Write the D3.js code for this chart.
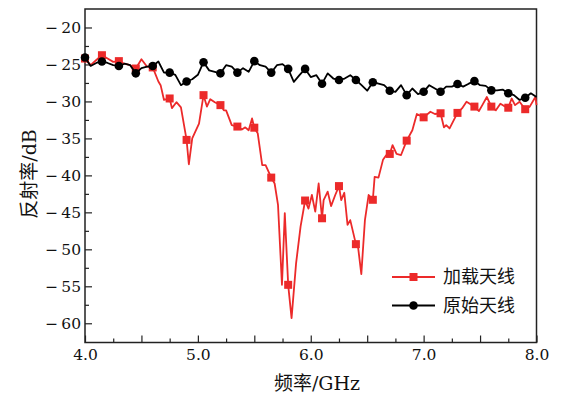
<!DOCTYPE html>
<html><head><meta charset="utf-8">
<script src="https://cdn.jsdelivr.net/npm/d3@7"></script>
<style>
html,body{margin:0;padding:0;background:#fff;}
svg{display:block;}
text{font-family:"DejaVu Serif","Noto Sans CJK SC",serif;fill:#111;}
</style></head>
<body><svg id="chart" width="561" height="394"></svg>
<script>
// ---------- data ----------
const seriesNames = ["加载天线", "原始天线"];
const seriesColors = ["#ec2a2a", "#000000"];

// 原始天线 (black): sampled every 0.05 GHz from 4.0 to 8.0
const origFreq = d3.range(0, 81).map(i => +(4 + i * 0.05).toFixed(2));
const origDb = [
  -24.05,-25.2,-24.8,-24.6,-24.8,-25.1,-25.2,-24.9,-25.1,-26.2,
  -25.5,-25.3,-25.2,-24.6,-26.1,-26.1,-26.4,-27.8,-27.3,-27.0,
  -26.4,-24.7,-25.8,-26.0,-26.2,-25.1,-25.3,-26.1,-25.5,-26.0,
  -24.55,-25.1,-25.3,-26.1,-25.1,-24.95,-25.6,-27.35,-26.45,-25.6,
  -26.7,-26.45,-27.6,-26.2,-26.9,-27.1,-26.9,-26.45,-27.1,-27.8,
  -28.55,-27.4,-27.6,-27.8,-28.55,-28.7,-27.8,-29.15,-28.25,-29.0,
  -28.7,-27.8,-28.25,-28.7,-28.0,-28.0,-27.65,-28.0,-27.6,-27.25,
  -27.8,-27.9,-28.5,-28.5,-28.4,-28.9,-29.15,-29.8,-29.5,-28.9,
  -29.4
];

// 加载天线 (red)
const loadFreq = [
  4.00,4.05,4.10,4.15,4.20,4.25,4.30,4.35,4.40,4.45,4.50,4.55,4.60,4.65,4.67,4.70,
  4.75,4.77,4.81,4.85,4.90,4.92,4.95,5.01,5.05,5.08,5.11,5.15,5.20,5.23,5.25,5.30,
  5.35,5.39,5.42,5.45,5.48,5.50,5.53,5.57,5.60,5.65,5.68,5.71,5.745,5.77,5.80,5.83,
  5.87,5.91,5.95,5.98,6.01,6.04,6.07,6.10,6.114,6.15,6.18,6.217,6.25,6.27,6.297,6.326,
  6.35,6.40,6.418,6.448,6.48,6.513,6.55,6.566,6.60,6.64,6.67,6.70,6.725,6.76,6.80,6.85,
  6.90,6.94,7.00,7.06,7.10,7.15,7.18,7.20,7.23,7.30,7.34,7.38,7.45,7.49,7.52,7.56,
  7.60,7.64,7.68,7.71,7.75,7.78,7.81,7.85,7.90,7.94,7.99,8.00
];
const loadDb = [
  -24.2,-25.1,-24.4,-23.75,-24.2,-24.65,-24.55,-24.9,-25.1,-25.55,-24.3,-25.3,-25.4,-27.3,-27.8,-29.8,
  -29.6,-30.9,-30.1,-30.8,-35.2,-38.5,-35.0,-33.0,-29.15,-30.7,-29.7,-30.1,-30.5,-31.2,-31.2,-33.2,
  -33.4,-33.8,-33.5,-33.9,-32.3,-33.55,-34.3,-38.6,-38.6,-40.3,-41.1,-44.0,-54.8,-45.1,-54.8,-59.3,
  -51.9,-46.9,-43.4,-44.5,-42.65,-44.9,-41.1,-45.8,-43.35,-42.2,-44.15,-42.65,-41.45,-43.35,-42.35,-46.7,
  -46.05,-49.3,-49.55,-53.35,-46.05,-42.65,-43.3,-40.2,-40.3,-37.9,-37.25,-37.1,-35.9,-37.1,-37.25,-35.3,
  -33.9,-31.7,-32.15,-31.4,-31.7,-31.6,-33.5,-33.2,-33.65,-31.55,-30.95,-30.05,-30.7,-31.3,-30.5,-29.4,
  -30.7,-31.2,-30.3,-30.6,-30.85,-29.6,-30.5,-30.05,-31.05,-30.7,-29.4,-30.5
];

const xTickLabels = [4.0, 5.0, 6.0, 7.0, 8.0];
const xTickAll = d3.range(0, 17).map(i => 4 + i * 0.25);
const yTickLabels = [-20,-25,-30,-35,-40,-45,-50,-55,-60];
const yTickMinor = [-22.5,-27.5,-32.5,-37.5,-42.5,-47.5,-52.5,-57.5,-62.5];
const xTitle = "频率/GHz";
const yTitle = "反射率/dB";

// ---------- layout ----------
const svg = d3.select("#chart");
const L = 85, R = 536.5, T = 9, B = 342.5;
const x = d3.scaleLinear().domain([4, 8]).range([L, R]);
const y = d3.scaleLinear().domain([-62.6, -17.5]).range([B, T]);

const isMarker = f => Math.abs((f - 4) / 0.15 - Math.round((f - 4) / 0.15)) < 1e-6;

// axes
const fmtMinus = d => (d < 0 ? "\u2212\u2009" : "") + Math.abs(d);
const gy = svg.append("g").attr("transform", `translate(${L},0)`)
  .call(d3.axisLeft(y).tickValues(yTickLabels).tickSize(-7).tickPadding(4).tickFormat(fmtMinus));
const gyMinor = svg.append("g").attr("transform", `translate(${L},0)`)
  .call(d3.axisLeft(y).tickValues(yTickMinor.filter(v => y(v) < B - 1)).tickSize(-4).tickFormat(""));
const gx = svg.append("g").attr("transform", `translate(0,${B})`)
  .call(d3.axisBottom(x).tickValues(xTickLabels).tickSize(-7).tickPadding(6).tickFormat(d3.format(".1f")));
const gxMid = svg.append("g").attr("transform", `translate(0,${B})`)
  .call(d3.axisBottom(x).tickValues(xTickAll.filter((v,i) => i % 2 === 0 && i % 4 !== 0)).tickSize(-7).tickFormat(""));
const gxMinor = svg.append("g").attr("transform", `translate(0,${B})`)
  .call(d3.axisBottom(x).tickValues(xTickAll.filter((v,i) => i % 2 === 1)).tickSize(-4).tickFormat(""));
[gy, gyMinor, gx, gxMid, gxMinor].forEach(g => {
  g.select(".domain").remove();
  g.selectAll(".tick line").attr("stroke", "#222").attr("stroke-width", 1.2);
  g.selectAll("text").attr("font-size", 15.5).attr("font-family", "DejaVu Serif").attr("fill", "#222");
});

// frame
svg.append("rect").attr("x", L).attr("y", T).attr("width", R - L).attr("height", B - T)
  .attr("fill", "none").attr("stroke", "#222").attr("stroke-width", 1.5);

// lines
const line = d3.line().x(d => x(d[0])).y(d => y(d[1]));
const loadData = loadFreq.map((f, i) => [f, loadDb[i]]);
const origData = origFreq.map((f, i) => [f, origDb[i]]);

const gPlot = svg.append("g");
gPlot.append("path").datum(loadData).attr("d", line).attr("fill", "none")
  .attr("stroke", seriesColors[0]).attr("stroke-width", 1.8).attr("stroke-linejoin", "round");
gPlot.selectAll(".sq").data(loadData.filter(d => isMarker(d[0]))).join("rect")
  .attr("x", d => x(d[0]) - 4).attr("y", d => y(d[1]) - 4).attr("width", 8).attr("height", 8)
  .attr("fill", seriesColors[0]);
gPlot.append("path").datum(origData).attr("d", line).attr("fill", "none")
  .attr("stroke", seriesColors[1]).attr("stroke-width", 1.8).attr("stroke-linejoin", "round");
gPlot.selectAll(".ci").data(origData.filter(d => isMarker(d[0]))).join("circle")
  .attr("cx", d => x(d[0])).attr("cy", d => y(d[1])).attr("r", 4.3)
  .attr("fill", seriesColors[1]);

// legend
const legY = [277, 305.5];
seriesNames.forEach((name, i) => {
  const g = svg.append("g");
  g.append("line").attr("x1", 392).attr("x2", 435).attr("y1", legY[i]).attr("y2", legY[i])
    .attr("stroke", seriesColors[i]).attr("stroke-width", 1.8);
  if (i === 0) g.append("rect").attr("x", 413.5 - 4).attr("y", legY[i] - 4).attr("width", 8).attr("height", 8).attr("fill", seriesColors[i]);
  else g.append("circle").attr("cx", 413.5).attr("cy", legY[i]).attr("r", 4.3).attr("fill", seriesColors[i]);
  g.append("text").attr("x", 443).attr("y", legY[i]).attr("dy", "0.36em")
    .attr("font-size", 18).attr("font-family", "Noto Sans CJK SC").attr("fill", "#222").text(name);
});

// titles
svg.append("text").attr("x", 317).attr("y", 390).attr("text-anchor", "middle")
  .attr("font-size", 19).attr("fill", "#222").text(xTitle);
svg.append("text").attr("transform", "translate(36,174) rotate(-90)").attr("text-anchor", "middle")
  .attr("font-size", 19).attr("fill", "#222").text(yTitle);
</script></body></html>
